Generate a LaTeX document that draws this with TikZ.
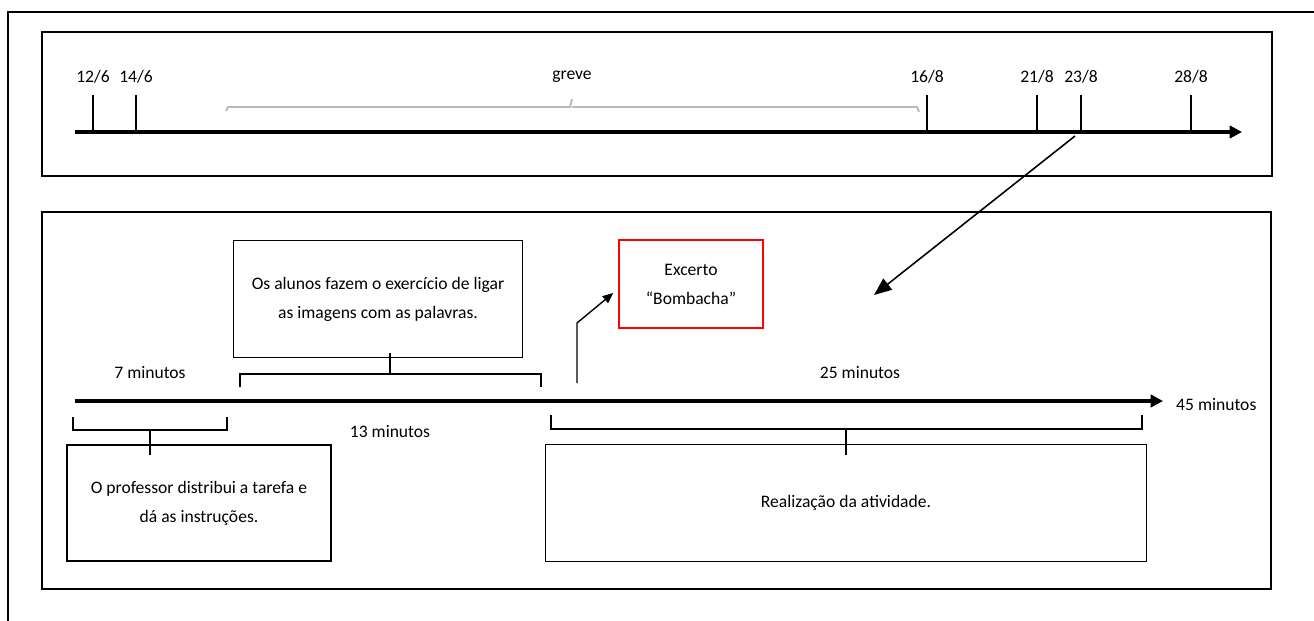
\documentclass[tikz,border=0pt]{standalone}
\usepackage{fontspec}
\setmainfont{Carlito}
\usepackage{tikz}
\usetikzlibrary{arrows.meta, positioning}

\begin{document}
\begin{tikzpicture}[x=0.02cm, y=-0.02cm, every node/.style={font=\fontsize{10}{16.5}\selectfont}]
\tikzset{
  frameline/.style={line width=0.9pt},
  axisline/.style={line width=2pt, -{Triangle[length=7pt, width=7pt]}},
  tickline/.style={line width=0.8pt},
  bracket/.style={line width=1pt},
  stepbox/.style={draw, line width=0.9pt, align=center, inner sep=0pt},
}
\useasboundingbox (0,0) rectangle (1314,621);
% outer frame (cut at right and bottom)
\draw[frameline] (8,621) -- (8,12) -- (1314,12);
% upper panel: calendar
\draw[frameline] (42,32) rectangle (1272,176);
\coordinate (cal0) at (75,132);
\coordinate (cal1) at (1242,132);
\draw[axisline] (cal0) -- (cal1);
\foreach \x/\d in {93/12\slash 6, 136/14\slash 6, 927/16\slash 8, 1037/21\slash 8, 1081/23\slash 8, 1191/28\slash 8} {
  \draw[tickline] (\x,132) -- (\x,95);
  \node at (\x,77) {\d};
}
% strike period
\draw[gray!55, line width=1.1pt] (226,111) -- (228,107) -- (570,107) -- (572,99)
  (572,107) -- (917,107) -- (919,112);
\node (greve) at (572,77) {greve};
% link from 23/8 to the lesson
\coordinate (lnk0) at (1075,136);
\coordinate (lnk1) at (874,295);
\draw[line width=0.9pt, -{Triangle[length=10pt, width=8pt]}] (lnk0) -- (lnk1);
% lower panel: lesson of 45 minutes
\draw[frameline] (42,212) rectangle (1271,589);
\coordinate (min0) at (75,401);
\coordinate (min1) at (1163,401);
\draw[axisline] (min0) -- (min1);
\node[anchor=west] (fim) at (1170,405) {45 minutos};
% step 1
\node (seven) at (150,373) {7 minutos};
\draw[bracket] (73,417) -- (73,430) -- (227,430) -- (227,417);
\coordinate (b1) at (150,430);
\node[stepbox, minimum width=5.28cm, minimum height=2.32cm] (prof) at (199,503)
  {O professor distribui a tarefa e\\dá as instruções.};
\draw[bracket] (b1) -- ++(0,25);
% step 2
\node (thirteen) at (390,432) {13 minutos};
\draw[bracket] (240,387) -- (240,374) -- (541,374) -- (541,387);
\coordinate (b2) at (390,374);
\node[stepbox, minimum width=5.78cm, minimum height=2.34cm] (alunos) at (378,299)
  {Os alunos fazem o exercício de ligar\\as imagens com as palavras.};
\draw[bracket] (b2) -- ++(0,-21);
% step 3
\node (twentyfive) at (860,373) {25 minutos};
\draw[bracket] (551,415) -- (551,429) -- (1142,429) -- (1142,415);
\coordinate (b3) at (846,429);
\node[stepbox, minimum width=12.02cm, minimum height=2.34cm] (ativ) at (846,503)
  {Realização da atividade.};
\draw[bracket] (b3) -- ++(0,26);
% excerpt
\node[stepbox, draw=red, minimum width=2.88cm, minimum height=1.76cm] (excerto) at (691,284)
  {Excerto\\“Bombacha”};
\coordinate (ex0) at (577,383);
\draw[line width=0.8pt, -{Triangle[length=6pt, width=5pt]}] (ex0) -- (577,323) -- ([xshift=-0.1cm, yshift=-0.18cm]excerto.west);
\end{tikzpicture}
\end{document}
